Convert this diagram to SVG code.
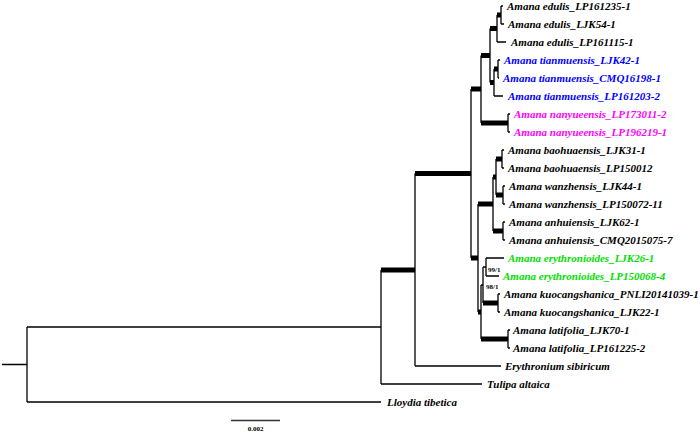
<svg xmlns="http://www.w3.org/2000/svg" width="700" height="432" viewBox="0 0 700 432">
<style>
.th{stroke:#000;stroke-width:1.3;fill:none}
.tk{stroke:#000;stroke-width:5;fill:none}
.lb{font-family:"Liberation Serif","Times New Roman",serif;font-size:11px;font-weight:bold;font-style:italic;fill:#000}
.bl{fill:#0000ff}.mg{fill:#ff00ff}.gr{fill:#00e000}
.sp{font-family:"Liberation Serif","Times New Roman",serif;font-size:7px;font-weight:bold;fill:#000}
</style>
<rect width="700" height="432" fill="#fff"/>
<g id="connectors">
<path class="th" d="M27 327V402M381 270V384M415 173.5V366M471 89V258M481 55.5V123M490 28.5V82.5M497 15V42M501 6V24M494 69V96M498 60V78M508 114V132M478 204V312M493 177V231M496 159V195M502 150V168M503 186V204M503 222V240M481 285V339M483 267V303M486 258V276M498 294V312M508 330V348"/>
<path class="th" d="M2 364.5H27M27 327H381M27 402H381M381 384H482M415 366H501M501 6H503M501 24H504M497 42H506M498 60H500M498 78H499M494 96H503M508 114H510M508 132H510M502 150H504M502 168H504M503 186H505M503 204H505M503 222H505M503 240H505M486 258H504M486 276H499M498 294H500M498 312H500M508 330H510M508 348H510M481 285H483M483 267H486"/>
<path class="tk" d="M381 270H415M415 173.5H471M471 89H481M481 55.5H490M490 28.5H497M497 15H501M490 82.5H494M494 69H498M481 123H508M471 258H478M478 204H493M493 177H496M496 159H502M496 195H503M493 231H503M478 312H481M483 303H498M481 339H508"/>
<path d="M231 420.5H280" stroke="#333" stroke-width="1.6"/>
</g>
<g id="t1"><text class="lb" x="507" y="10">Amana edulis_LP161235-1</text></g>
<g id="t2"><text class="lb" x="508" y="28">Amana edulis_LJK54-1</text></g>
<g id="t3"><text class="lb" x="511" y="46">Amana edulis_LP161115-1</text></g>
<g id="t4"><text class="lb bl" x="504" y="64">Amana tianmuensis_LJK42-1</text></g>
<g id="t5"><text class="lb bl" x="503" y="82">Amana tianmuensis_CMQ16198-1</text></g>
<g id="t6"><text class="lb bl" x="508" y="100">Amana tianmuensis_LP161203-2</text></g>
<g id="t7"><text class="lb mg" x="514" y="118">Amana nanyueensis_LP173011-2</text></g>
<g id="t8"><text class="lb mg" x="514" y="136">Amana nanyueensis_LP196219-1</text></g>
<g id="t9"><text class="lb" x="508" y="154">Amana baohuaensis_LJK31-1</text></g>
<g id="t10"><text class="lb" x="508" y="172">Amana baohuaensis_LP150012</text></g>
<g id="t11"><text class="lb" x="509" y="190">Amana wanzhensis_LJK44-1</text></g>
<g id="t12"><text class="lb" x="509" y="208">Amana wanzhensis_LP150072-11</text></g>
<g id="t13"><text class="lb" x="509" y="226">Amana anhuiensis_LJK62-1</text></g>
<g id="t14"><text class="lb" x="509" y="244">Amana anhuiensis_CMQ2015075-7</text></g>
<g id="t15"><text class="lb gr" x="508" y="262">Amana erythronioides_LJK26-1</text></g>
<g id="t16"><text class="lb gr" x="503" y="280">Amana erythronioides_LP150068-4</text></g>
<g id="t17"><text class="lb" x="504" y="298">Amana kuocangshanica_PNLI20141039-1</text></g>
<g id="t18"><text class="lb" x="504" y="316">Amana kuocangshanica_LJK22-1</text></g>
<g id="t19"><text class="lb" x="513" y="334">Amana latifolia_LJK70-1</text></g>
<g id="t20"><text class="lb" x="513" y="352">Amana latifolia_LP161225-2</text></g>
<g id="t21"><text class="lb" x="505" y="370">Erythronium sibiricum</text></g>
<g id="t22"><text class="lb" x="487" y="388">Tulipa altaica</text></g>
<g id="t23"><text class="lb" x="387" y="406">Lloydia tibetica</text></g>
<g id="s1"><text class="sp" x="488" y="271.5">99/1</text></g>
<g id="s2"><text class="sp" x="486" y="288.5">98/1</text></g>
<g id="scale"><text class="sp" x="255.5" y="431" text-anchor="middle">0.002</text></g>
</svg>
